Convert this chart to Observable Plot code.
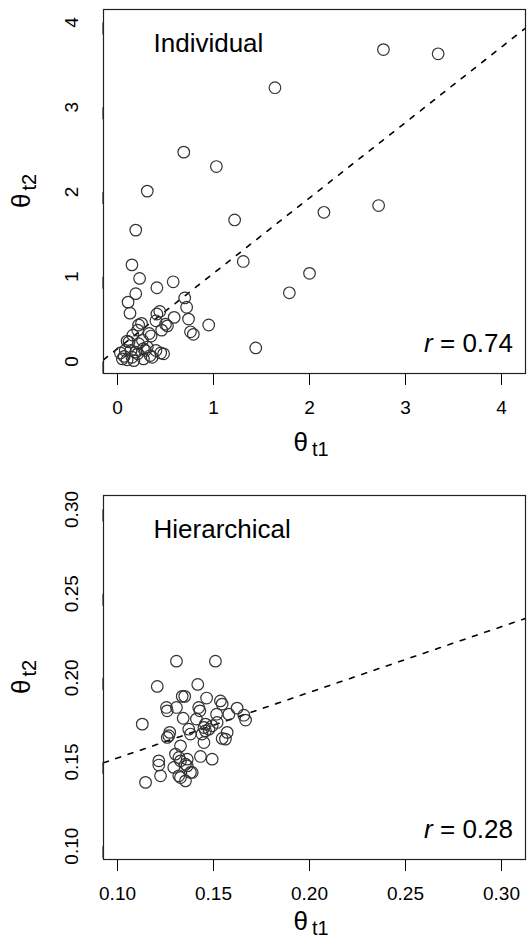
<!DOCTYPE html>
<html>
<head>
<meta charset="utf-8">
<script src="https://cdn.jsdelivr.net/npm/d3@7"></script>
<script src="https://cdn.jsdelivr.net/npm/@observablehq/plot@0.6"></script>
<style>
  html, body { margin: 0; padding: 0; background: #fff; }
  #chart svg { display: block; }
</style>
</head>
<body>
<div id="chart"></div>
<script>
// ---------- Data ----------
// Individual estimates (theta_t1, theta_t2)
const indX = [2.77, 3.34, 1.64, 0.69, 1.03, 0.31, 0.19, 1.22, 2.15, 2.72,
              1.31, 2.00, 1.79, 1.44, 0.95, 0.15, 0.23, 0.41, 0.58, 0.19,
              0.11, 0.13, 0.70, 0.72, 0.74, 0.76, 0.79, 0.59, 0.44, 0.40,
              0.25, 0.50, 0.46, 0.35, 0.21, 0.16, 0.10, 0.26, 0.40, 0.45,
              0.07, 0.14, 0.21, 0.27, 0.05, 0.34, 0.15, 0.31, 0.22, 0.33,
              0.12, 0.22, 0.08, 0.19, 0.29, 0.17, 0.27, 0.36, 0.48, 0.52,
              0.41, 0.03, 0.10];
const indY = [3.68, 3.63, 3.23, 2.47, 2.30, 2.01, 1.55, 1.67, 1.76, 1.84,
              1.18, 1.04, 0.81, 0.16, 0.43, 1.14, 0.98, 0.87, 0.94, 0.80,
              0.70, 0.57, 0.75, 0.64, 0.50, 0.35, 0.32, 0.52, 0.59, 0.48,
              0.45, 0.44, 0.37, 0.30, 0.37, 0.31, 0.24, 0.25, 0.13, 0.10,
              0.06, 0.13, 0.09, 0.15, 0.03, 0.07, 0.05, 0.17, 0.43, 0.33,
              0.23, 0.21, 0.13, 0.11, 0.13, 0.01, 0.03, 0.05, 0.09, 0.42,
              0.56, 0.10, 0.02];
// Hierarchical estimates
const hierX = [0.1307, 0.1510, 0.1207, 0.1418, 0.1337, 0.1350, 0.1464, 0.1536, 0.1545, 0.1623,
               0.1255, 0.1259, 0.1307, 0.1423, 0.1429, 0.1516, 0.1580, 0.1658, 0.1667, 0.1342,
               0.1411, 0.1129, 0.1458, 0.1519, 0.1272, 0.1267, 0.1259, 0.1371, 0.1380, 0.1450,
               0.1458, 0.1476, 0.1440, 0.1493, 0.1571, 0.1562, 0.1545, 0.1450, 0.1328, 0.1302,
               0.1320, 0.1328, 0.1354, 0.1363, 0.1432, 0.1493, 0.1215, 0.1215, 0.1293, 0.1363,
               0.1380, 0.1224, 0.1319, 0.1328, 0.1354, 0.1146, 0.1389];
const hierY = [0.2099, 0.2099, 0.1949, 0.1961, 0.1890, 0.1890, 0.1880, 0.1863, 0.1844, 0.1820,
               0.1824, 0.1804, 0.1824, 0.1824, 0.1804, 0.1784, 0.1784, 0.1778, 0.1749, 0.1760,
               0.1755, 0.1725, 0.1725, 0.1735, 0.1676, 0.1656, 0.1646, 0.1695, 0.1666, 0.1705,
               0.1685, 0.1695, 0.1666, 0.1715, 0.1676, 0.1636, 0.1640, 0.1616, 0.1596, 0.1547,
               0.1527, 0.1507, 0.1487, 0.1517, 0.1533, 0.1517, 0.1507, 0.1482, 0.1468, 0.1477,
               0.1438, 0.1418, 0.1418, 0.1408, 0.1388, 0.1379, 0.1438];

// Fitted (dashed) lines: intercept, slope
const indFit = [0.15, 0.89];
const hierFit = [0.1134, 0.39];

// Tick values and labels
const indTicks = [0, 1, 2, 3, 4];
const hierTicks = [0.10, 0.15, 0.20, 0.25, 0.30];
const indDomX = [-0.146, 4.25], indDomY = [-0.142, 4.153];
const hierDomX = [0.0927, 0.3125], hierDomY = [0.0921, 0.3083];

const panelTitles = ["Individual", "Hierarchical"];
const rLabels = ["0.74", "0.28"];

// ---------- Drawing ----------
const FONT = "'Liberation Sans', Arial, Helvetica, sans-serif";

function panel({xs, ys, fit, ticks, domX, domY, fmt, title, rText, height, marginTop, marginBottom, xTitleOffset}) {
  const pts = xs.map((x, i) => ({x, y: ys[i]}));
  const lineData = domX.map(x => ({x, y: fit[0] + fit[1] * x}));
  const svg = Plot.plot({
    width: 531,
    height,
    marginLeft: 103,
    marginRight: 6,
    marginTop,
    marginBottom,
    style: {fontFamily: FONT, fontSize: "19px", color: "black", background: "white", overflow: "visible"},
    x: {domain: domX},
    y: {domain: domY},
    marks: [
      Plot.axisX({ticks, tickSize: 12, tickPadding: 15, fontSize: 19, tickFormat: fmt, label: null}),
      Plot.axisY({ticks, tickSize: 12, tickPadding: 20, fontSize: 19, tickFormat: fmt, label: null,
                  rotate: -90, textAnchor: "middle"}),
      Plot.line(lineData, {x: "x", y: "y", stroke: "black", strokeWidth: 1.6, strokeDasharray: "5,8", clip: true}),
      Plot.dot(pts, {x: "x", y: "y", r: 5.8, stroke: "#333", strokeWidth: 1.2, fill: "none"}),
      Plot.text([title], {frameAnchor: "top-left", dx: 50, dy: 24, fontSize: 26, textAnchor: "start", lineAnchor: "top", fill: "black"}),
      Plot.frame({stroke: "#222", strokeWidth: 1.2})
    ]
  });
  const s = d3.select(svg);
  const plotBottom = height - marginBottom;
  const plotCx = (103 + 525) / 2;
  const plotCy = (marginTop + plotBottom) / 2;
  // x-axis title θ_t1
  const xt = s.append("text")
    .attr("x", plotCx - 3).attr("y", plotBottom + xTitleOffset)
    .attr("text-anchor", "middle").attr("font-family", FONT).attr("fill", "black");
  xt.append("tspan").attr("font-size", 26).text("θ");
  xt.append("tspan").attr("font-size", 20).attr("dx", 4).attr("dy", 5).text("t1");
  // y-axis title θ_t2
  const yt = s.append("text")
    .attr("transform", `translate(30,${plotCy}) rotate(-90)`)
    .attr("text-anchor", "middle").attr("font-family", FONT).attr("fill", "black");
  yt.append("tspan").attr("font-size", 26).text("θ");
  yt.append("tspan").attr("font-size", 20).attr("dx", 3).attr("dy", 6).text("t2");
  // r label
  const rt = s.append("text")
    .attr("x", 513).attr("y", plotBottom - 21)
    .attr("text-anchor", "end").attr("font-family", FONT).attr("font-size", 26).attr("fill", "black");
  rt.append("tspan").attr("font-style", "italic").text("r");
  rt.append("tspan").text(" = " + rText);
  return svg;
}

const chart = document.getElementById("chart");
chart.appendChild(panel({
  xs: indX, ys: indY, fit: indFit, ticks: indTicks, domX: indDomX, domY: indDomY,
  fmt: d3.format("d"), title: panelTitles[0], rText: rLabels[0],
  height: 480, marginTop: 9, marginBottom: 107, xTitleOffset: 78
}));
chart.appendChild(panel({
  xs: hierX, ys: hierY, fit: hierFit, ticks: hierTicks, domX: hierDomX, domY: hierDomY,
  fmt: d3.format(".2f"), title: panelTitles[1], rText: rLabels[1],
  height: 461, marginTop: 15, marginBottom: 82, xTitleOffset: 71
}));
</script>
</body>
</html>
